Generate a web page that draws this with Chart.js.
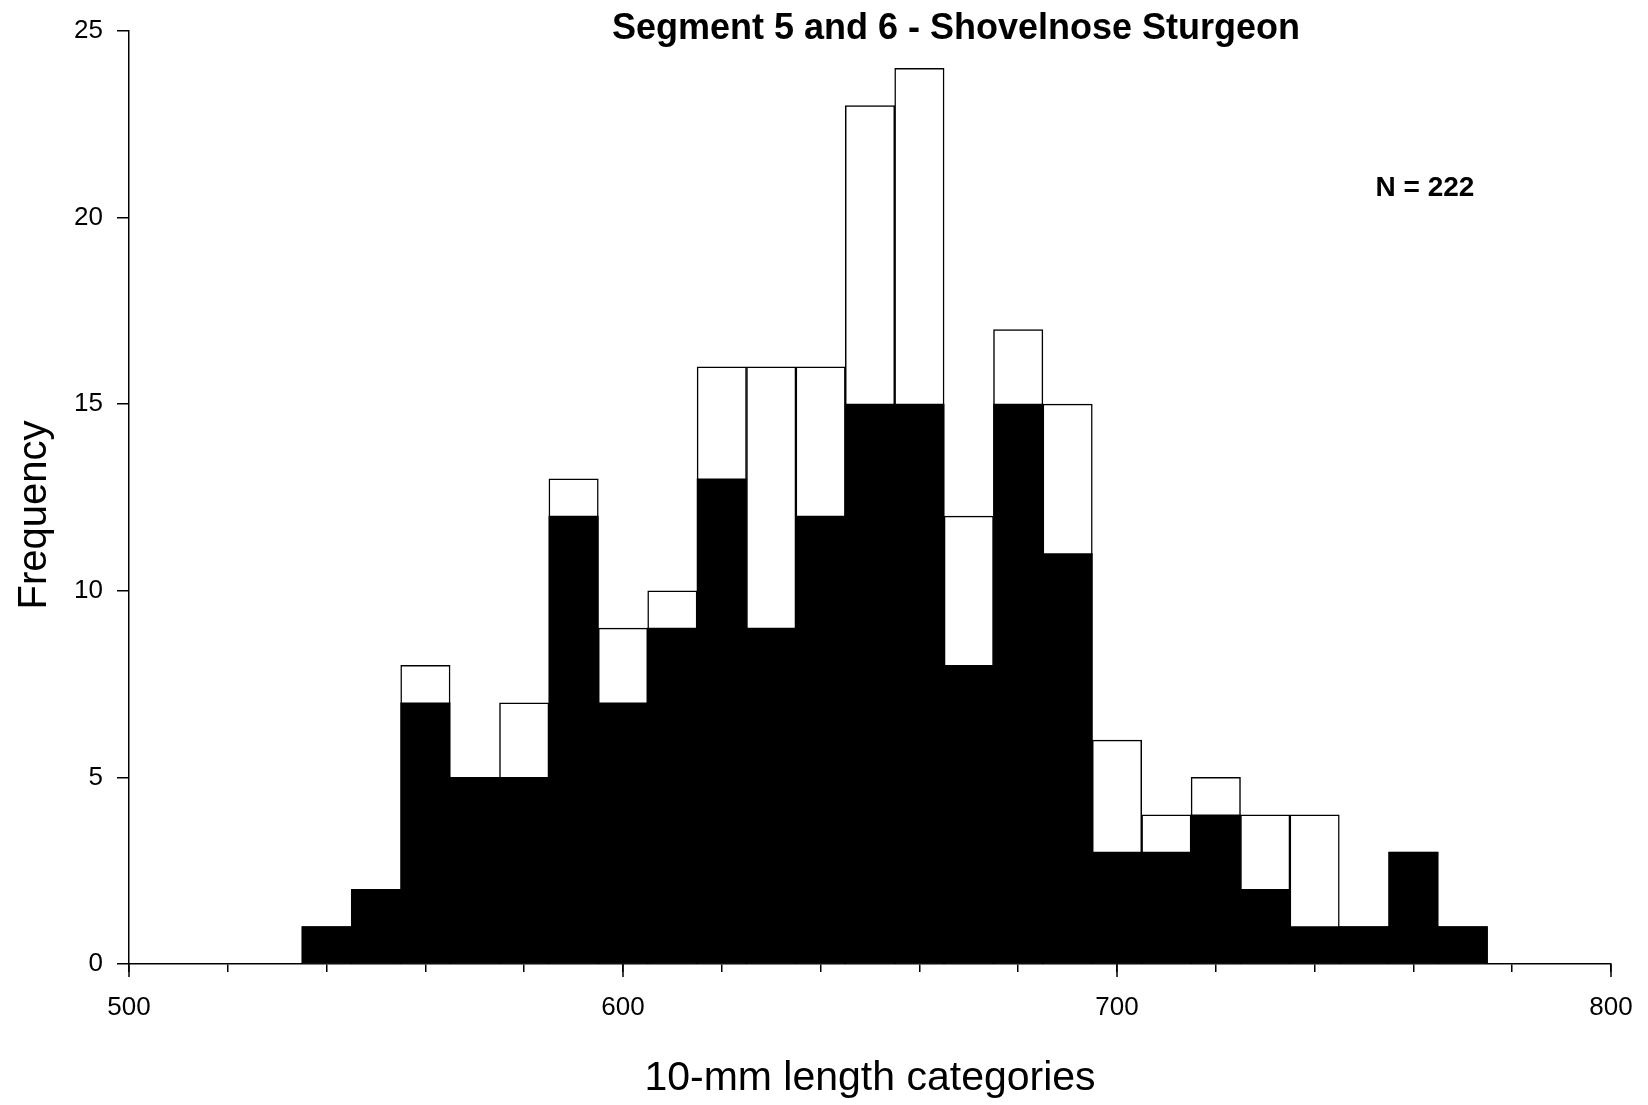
<!DOCTYPE html>
<html>
<head>
<meta charset="utf-8">
<script src="https://cdn.jsdelivr.net/npm/chart.js@4"></script>
<style>
  body { margin: 0; background: #fff; }
  canvas { display: block; }
</style>
</head>
<body>
<canvas id="hist" width="1648" height="1105"></canvas>
<script>
// 10-mm length class midpoints
const lengthBins = [540, 550, 560, 570, 580, 590, 600, 610, 620, 630, 640, 650,
  660, 670, 680, 690, 700, 710, 720, 730, 740, 750, 760, 770];
// full bar height (white outline)
const totalCounts = [1, 2, 8, 5, 7, 13, 9, 10, 16, 16, 16, 23,
  24, 12, 17, 15, 6, 4, 5, 4, 4, 1, 3, 1];
// black portion of each bar
const blackCounts = [1, 2, 7, 5, 5, 12, 7, 9, 13, 9, 12, 15,
  15, 8, 15, 11, 3, 3, 4, 2, 1, 1, 3, 1];
const yTicks = [0, 5, 10, 15, 20, 25];

const chartTitle = "Segment 5 and 6 - Shovelnose Sturgeon";
const nLabel = "N = 222";
const yTitle = "Frequency";

const FONT = "'Liberation Sans', Arial, sans-serif";

// title, N label, y title and long major ticks on the x axis
const extras = {
  id: "extras",
  afterDraw(chart) {
    const ctx = chart.ctx;
    const x = chart.scales.x;
    ctx.save();
    ctx.fillStyle = "#000";
    ctx.textAlign = "center";
    ctx.textBaseline = "middle";
    ctx.font = "bold 36px " + FONT;
    ctx.fillText(chartTitle, 956, 29);
    ctx.font = "bold 28px " + FONT;
    ctx.fillText(nLabel, 1425, 188);

    ctx.save();
    ctx.translate(35, 515);
    ctx.rotate(-Math.PI / 2);
    ctx.font = "40px " + FONT;
    ctx.fillText(yTitle, 0, 0);
    ctx.restore();

    ctx.strokeStyle = "#000";
    ctx.lineWidth = 1.5;
    for (let v = 500; v <= 800; v += 100) {
      const px = Math.round(x.getPixelForValue(v));
      ctx.beginPath();
      ctx.moveTo(px, x.top);
      ctx.lineTo(px, x.top + 13);
      ctx.stroke();
    }
    ctx.restore();
  },
};

const ctx = document.getElementById("hist").getContext("2d");
new Chart(ctx, {
  type: "bar",
  data: {
    datasets: [
      {
        label: "black",
        data: lengthBins.map((b, i) => ({ x: b, y: blackCounts[i] })),
        backgroundColor: "#000",
        borderColor: "#000",
        borderWidth: 0,
        order: 0,
      },
      {
        label: "total",
        data: lengthBins.map((b, i) => ({ x: b, y: totalCounts[i] })),
        backgroundColor: "#fff",
        borderColor: "#000",
        borderWidth: 1.5,
        order: 1,
      },
    ],
  },
  options: {
    responsive: false,
    animation: false,
    grouped: false,
    barPercentage: 1,
    categoryPercentage: 1,
    layout: { padding: { top: 31, right: 37, left: 0, bottom: 0 } },
    plugins: {
      legend: { display: false },
      tooltip: { enabled: false },
    },
    scales: {
      x: {
        type: "linear",
        min: 500,
        max: 800,
        offset: false,
        afterFit: (s) => { s.height = 141; s.paddingLeft = 0; s.paddingRight = 0; },
        border: { display: true, color: "#000", width: 1.5 },
        grid: { offset: false, drawOnChartArea: false, drawTicks: true, tickLength: 8, color: "#000", lineWidth: 1.5 },
        ticks: {
          stepSize: 20,
          autoSkip: false,
          maxRotation: 0,
          padding: 20,
          color: "#000",
          font: { family: FONT, size: 26 },
          callback: (v) => (v % 100 === 0 ? String(v) : ""),
        },
        title: {
          display: true,
          text: "10-mm length categories",
          color: "#000",
          font: { family: FONT, size: 41 },
          padding: { top: 0, bottom: 2 },
        },
      },
      y: {
        min: 0,
        max: 25,
        afterFit: (s) => { s.width = 129; },
        afterBuildTicks: (s) => { s.ticks = yTicks.map((v) => ({ value: v })); },
        border: { display: true, color: "#000", width: 1.5 },
        grid: { drawOnChartArea: false, drawTicks: true, tickLength: 12, color: "#000", lineWidth: 1.5 },
        ticks: {
          padding: 14,
          color: "#000",
          font: { family: FONT, size: 26 },
        },
      },
    },
  },
  plugins: [extras],
});
</script>
</body>
</html>
